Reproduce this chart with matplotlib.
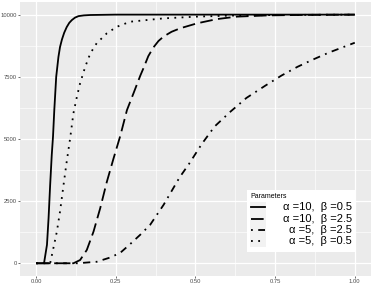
import matplotlib
matplotlib.use("Agg")
import matplotlib.pyplot as plt
from matplotlib.lines import Line2D
from matplotlib.patches import Rectangle

### Daten
x_a10_b05 = [0.0, 0.02, 0.025, 0.034, 0.039, 0.044, 0.049, 0.053, 0.057, 0.063, 0.070,
             0.075, 0.081, 0.088, 0.096, 0.104, 0.112, 0.122, 0.133, 0.15, 0.17, 0.25, 1.0]
y_a10_b05 = [0, 0, 20, 740, 1810, 3150, 4350, 5100, 6160, 7500, 8300,
             8700, 9000, 9270, 9500, 9670, 9780, 9880, 9940, 9970, 9985, 10000, 10000]

x_a10_b25 = [0.0, 0.117, 0.138, 0.159, 0.18, 0.201, 0.222, 0.243, 0.264, 0.285, 0.306,
             0.327, 0.337, 0.352, 0.368, 0.384, 0.40, 0.425, 0.452, 0.505, 0.567, 0.63,
             0.73, 0.85, 1.0]
y_a10_b25 = [0, 0, 130, 535, 1270, 2210, 3280, 4220, 5120, 6160, 6850,
             7550, 7850, 8330, 8680, 8940, 9120, 9310, 9450, 9650, 9820, 9920,
             9970, 9990, 10000]

x_a5_b25 = [0.0, 0.13, 0.19, 0.232, 0.264, 0.295, 0.327, 0.358, 0.40, 0.45, 0.48,
            0.52, 0.56, 0.61, 0.66, 0.72, 0.77, 0.82, 0.87, 0.92, 1.0]
y_a5_b25 = [0, 0, 60, 230, 420, 770, 1150, 1550, 2350, 3450, 4000,
            4800, 5500, 6100, 6650, 7150, 7550, 7900, 8200, 8480, 8870]

x_a5_b05 = [0.0, 0.044, 0.054, 0.065, 0.075, 0.086, 0.096, 0.107, 0.117, 0.128, 0.138,
            0.154, 0.17, 0.19, 0.222, 0.253, 0.295, 0.40, 0.505, 0.61, 0.75, 1.0]
y_a5_b05 = [0, 0, 600, 1270, 2080, 3150, 4090, 5050, 6030, 6700, 7240,
            7900, 8440, 8850, 9250, 9510, 9715, 9850, 9920, 9960, 9985, 10000]

labels = ["\u03b1 =10,  \u03b2 =0.5", "\u03b1 =10,  \u03b2 =2.5",
          "\u03b1 =5,  \u03b2 =2.5", "\u03b1 =5,  \u03b2 =0.5"]
xticks = [0.0, 0.25, 0.5, 0.75, 1.0]
xticklabels = ["0.00", "0.25", "0.50", "0.75", "1.00"]
yticks = [0, 2500, 5000, 7500, 10000]

### Stil
plt.rcParams['font.family'] = ['Liberation Sans', 'DejaVu Sans']
W, H = 374, 286
lw = 1.3
styles = ["-", (0, (7, 3)), (0, (1, 3, 4, 3)), (0, (1, 3))]

fig = plt.figure(figsize=(W/100, H/100), dpi=100)
ax = fig.add_axes([20.2/W, 1 - 275.7/H, (370.7-20.2)/W, (275.7-2.2)/H])
ax.set_facecolor("#EBEBEB")
for s in ax.spines.values():
    s.set_visible(False)

ax.set_xlim(-0.05, 1.05)
ax.set_ylim(-500, 10500)
ax.set_xticks(xticks)
ax.set_xticklabels(xticklabels)
ax.set_yticks(yticks)
ax.set_xticks([0.125, 0.375, 0.625, 0.875], minor=True)
ax.set_yticks([1250, 3750, 6250, 8750], minor=True)
ax.grid(which="major", color="white", lw=0.9)
ax.grid(which="minor", color="white", lw=0.45)
ax.set_axisbelow(True)
ax.tick_params(which="major", length=1.5, width=0.5, color="#333333",
               labelsize=4.2, labelcolor="#4D4D4D", pad=1)
ax.tick_params(which="minor", length=0)

series = [(x_a10_b05, y_a10_b05), (x_a10_b25, y_a10_b25),
          (x_a5_b25, y_a5_b25), (x_a5_b05, y_a5_b05)]
for (xs, ys), ls in zip(series, styles):
    ax.plot(xs, ys, color="black", lw=lw, linestyle=ls, solid_capstyle="butt")

### Legende (von Hand)
fx = lambda px: px / W
fy = lambda py: 1 - py / H
fig.patches.append(Rectangle((fx(246.7), fy(251.7)), fx(355) - fx(246.7), (251.7-190)/H,
                             transform=fig.transFigure, facecolor="white", edgecolor="none", zorder=5))
fig.text(fx(250), fy(196.5), "Parameters", fontsize=5, color="black", va="center", ha="left", zorder=6)
rows = [207.3, 218.6, 229.9, 241.2]
for r, ls, lab in zip(rows, styles, labels):
    fig.patches.append(Rectangle((fx(250), fy(r + 5.6)), fx(266) - fx(250), 11.2/H,
                                 transform=fig.transFigure, facecolor="#F2F2F2", edgecolor="none", zorder=6))
    fig.lines.append(Line2D([fx(251), fx(265)], [fy(r), fy(r)], transform=fig.transFigure,
                            color="black", lw=lw, linestyle=ls, zorder=7))
    fig.text(fx(351.7), fy(r), lab, fontsize=8, ha="right", va="center", zorder=7)

fig.savefig("out.png", dpi=100)
